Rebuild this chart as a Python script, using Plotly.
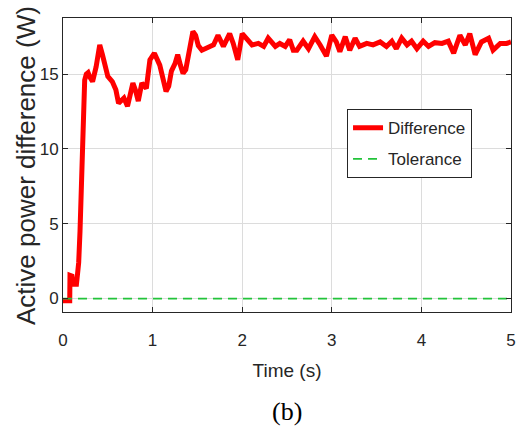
import plotly.graph_objects as go

# Active power difference response (W) against time (s)
time_s = [0.0, 0.075, 0.078, 0.10, 0.11, 0.15, 0.165, 0.175, 0.19, 0.205, 0.215,
          0.228, 0.242, 0.26, 0.28, 0.30, 0.33, 0.37, 0.41, 0.44, 0.47, 0.50,
          0.55, 0.59, 0.62, 0.65, 0.68, 0.72, 0.75, 0.78, 0.81, 0.84, 0.88,
          0.93, 0.97, 1.02, 1.08, 1.12, 1.15, 1.18, 1.21, 1.25, 1.28, 1.31,
          1.34, 1.37, 1.40, 1.45, 1.48, 1.51, 1.55, 1.60, 1.64, 1.68, 1.73,
          1.79, 1.86, 1.90, 1.95, 2.00, 2.05, 2.11, 2.18, 2.24, 2.29, 2.37,
          2.42, 2.48, 2.53, 2.57, 2.61, 2.68, 2.74, 2.81, 2.87, 2.94, 3.00,
          3.05, 3.09, 3.15, 3.20, 3.26, 3.31, 3.39, 3.46, 3.54, 3.61, 3.67,
          3.72, 3.78, 3.84, 3.89, 3.95, 4.02, 4.08, 4.15, 4.23, 4.30, 4.36,
          4.43, 4.49, 4.54, 4.60, 4.67, 4.75, 4.80, 4.88, 4.95, 5.0]
difference_w = [-0.15, -0.15, 1.55, 1.5, 0.95, 0.95, 1.8, 2.4, 4.5, 7.6, 10.0,
                12.8, 14.6, 15.0, 15.1, 14.8, 14.5, 15.5, 16.95, 16.3, 15.4, 14.85,
                14.5, 13.95, 13.05, 13.2, 13.4, 12.85, 13.6, 14.4, 13.9, 13.2, 14.4,
                14.05, 15.95, 16.4, 15.6, 14.6, 13.85, 14.2, 15.2, 15.7, 16.3, 15.6,
                15.05, 15.3, 16.2, 17.85, 17.6, 16.9, 16.6, 16.7, 16.85, 16.95, 17.6,
                16.85, 17.7, 17.05, 15.95, 17.7, 17.3, 16.95, 17.05, 16.85, 17.4, 16.85,
                17.05, 16.85, 17.3, 16.6, 16.6, 17.2, 16.7, 17.5, 16.95, 16.2, 17.6,
                17.15, 16.5, 17.5, 16.6, 17.4, 16.85, 17.05, 16.95, 17.15, 16.85, 17.2,
                16.7, 17.4, 16.95, 17.2, 16.7, 17.2, 16.85, 17.1, 17.05, 17.2, 16.4,
                17.6, 16.95, 17.7, 16.3, 17.15, 17.4, 16.6, 17.05, 17.05, 17.15]

tolerance_t = [0.0, 5.0]
tolerance_w = [0.0, 0.0]

x_ticks = [0, 1, 2, 3, 4, 5]
y_ticks = [0, 5, 10, 15]

TEXT = "#262626"
SANS = "Liberation Sans, Arial, sans-serif"

fig = go.Figure()
fig.add_trace(go.Scatter(
    x=time_s, y=difference_w, mode="lines", name="Difference",
    legendgroup="diff",
    line=dict(color="#ff0000", width=5),
))
fig.add_trace(go.Scatter(
    x=tolerance_t, y=tolerance_w, mode="lines", name="Tolerance",
    legendgroup="tol",
    line=dict(color="#22c33a", width=1.8, dash="9px,6px"),
))

axis_common = dict(
    showline=True, linecolor=TEXT, linewidth=1, mirror="ticks",
    ticks="inside", ticklen=5, tickcolor=TEXT,
    showgrid=True, gridcolor="#dcdcdc", gridwidth=1,
    zeroline=False, automargin=False,
    tickfont=dict(family=SANS, size=17, color=TEXT),
)

fig.update_layout(
    width=519, height=427,
    margin=dict(l=63, r=8, t=18, b=115),
    paper_bgcolor="white", plot_bgcolor="white",
    xaxis=dict(
        range=[0, 5], tickvals=x_ticks, ticklabelstandoff=13,
        title=dict(text="Time (s)", font=dict(family=SANS, size=19, color=TEXT),
                   standoff=14),
        **axis_common,
    ),
    yaxis=dict(
        range=[-0.9, 18.75], tickvals=y_ticks,
        **axis_common,
    ),
    legend=dict(
        x=0.634, y=0.69, xanchor="left", yanchor="top",
        bgcolor="white", bordercolor=TEXT, borderwidth=1,
        tracegroupgap=6,
        font=dict(family=SANS, size=17, color=TEXT),
    ),
    showlegend=True,
    annotations=[
        dict(
            text="Active power difference (W)", textangle=-90,
            x=-0.0826, y=0.50, xref="paper", yref="paper",
            xanchor="center", yanchor="middle", showarrow=False,
            font=dict(family=SANS, size=26, color=TEXT),
        ),
        dict(
            text="(b)", x=0.5, y=-0.337, xref="paper", yref="paper",
            xanchor="center", yanchor="middle", showarrow=False,
            font=dict(family="Liberation Serif, Times New Roman, serif", size=26, color="black"),
        ),
    ],
)

fig.write_html("out.html")
